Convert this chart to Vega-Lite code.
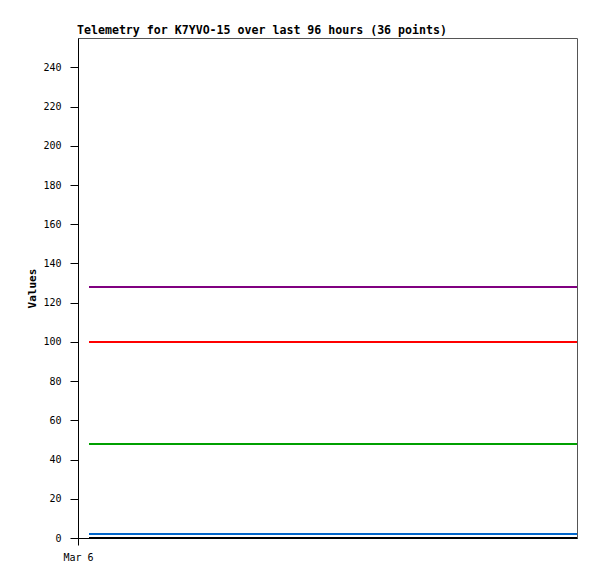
{
  "$schema": "https://vega.github.io/schema/vega-lite/v6.json",
  "autosize": "none",
  "padding": {"left": 78, "top": 38, "right": 20, "bottom": 41},
  "width": 499,
  "height": 500,
  "background": "white",
  "title": {
    "text": "Telemetry for K7YVO-15 over last 96 hours (36 points)",
    "anchor": "start",
    "frame": "group",
    "font": "DejaVu Sans Mono",
    "fontSize": 11.6,
    "fontWeight": "bold",
    "color": "black",
    "offset": 1,
    "dx": -1
  },
  "config": {
    "view": {"stroke": "#555555", "strokeWidth": 1},
    "axis": {
      "labelFont": "DejaVu Sans Mono",
      "labelFontSize": 10,
      "labelColor": "black",
      "titleFont": "DejaVu Sans Mono",
      "titleFontSize": 11,
      "titleFontWeight": "bold",
      "titleColor": "black",
      "domainColor": "black",
      "tickColor": "black",
      "grid": false
    }
  },
  "data": {
    "values": [
      {"t": "2025-03-06T02:07:00Z", "Ch1": 128, "Ch2": 100, "Ch3": 48, "Ch4": 2, "Ch5": 0},
      {"t": "2025-03-06T04:48:00Z", "Ch1": 128, "Ch2": 100, "Ch3": 48, "Ch4": 2, "Ch5": 0},
      {"t": "2025-03-06T07:29:00Z", "Ch1": 128, "Ch2": 100, "Ch3": 48, "Ch4": 2, "Ch5": 0},
      {"t": "2025-03-06T10:10:00Z", "Ch1": 128, "Ch2": 100, "Ch3": 48, "Ch4": 2, "Ch5": 0},
      {"t": "2025-03-06T12:51:00Z", "Ch1": 128, "Ch2": 100, "Ch3": 48, "Ch4": 2, "Ch5": 0},
      {"t": "2025-03-06T15:32:00Z", "Ch1": 128, "Ch2": 100, "Ch3": 48, "Ch4": 2, "Ch5": 0},
      {"t": "2025-03-06T18:13:00Z", "Ch1": 128, "Ch2": 100, "Ch3": 48, "Ch4": 2, "Ch5": 0},
      {"t": "2025-03-06T20:54:00Z", "Ch1": 128, "Ch2": 100, "Ch3": 48, "Ch4": 2, "Ch5": 0},
      {"t": "2025-03-06T23:35:00Z", "Ch1": 128, "Ch2": 100, "Ch3": 48, "Ch4": 2, "Ch5": 0},
      {"t": "2025-03-07T02:16:00Z", "Ch1": 128, "Ch2": 100, "Ch3": 48, "Ch4": 2, "Ch5": 0},
      {"t": "2025-03-07T04:57:00Z", "Ch1": 128, "Ch2": 100, "Ch3": 48, "Ch4": 2, "Ch5": 0},
      {"t": "2025-03-07T07:38:00Z", "Ch1": 128, "Ch2": 100, "Ch3": 48, "Ch4": 2, "Ch5": 0},
      {"t": "2025-03-07T10:19:00Z", "Ch1": 128, "Ch2": 100, "Ch3": 48, "Ch4": 2, "Ch5": 0},
      {"t": "2025-03-07T13:00:00Z", "Ch1": 128, "Ch2": 100, "Ch3": 48, "Ch4": 2, "Ch5": 0},
      {"t": "2025-03-07T15:41:00Z", "Ch1": 128, "Ch2": 100, "Ch3": 48, "Ch4": 2, "Ch5": 0},
      {"t": "2025-03-07T18:22:00Z", "Ch1": 128, "Ch2": 100, "Ch3": 48, "Ch4": 2, "Ch5": 0},
      {"t": "2025-03-07T21:03:00Z", "Ch1": 128, "Ch2": 100, "Ch3": 48, "Ch4": 2, "Ch5": 0},
      {"t": "2025-03-07T23:44:00Z", "Ch1": 128, "Ch2": 100, "Ch3": 48, "Ch4": 2, "Ch5": 0},
      {"t": "2025-03-08T02:25:00Z", "Ch1": 128, "Ch2": 100, "Ch3": 48, "Ch4": 2, "Ch5": 0},
      {"t": "2025-03-08T05:06:00Z", "Ch1": 128, "Ch2": 100, "Ch3": 48, "Ch4": 2, "Ch5": 0},
      {"t": "2025-03-08T07:47:00Z", "Ch1": 128, "Ch2": 100, "Ch3": 48, "Ch4": 2, "Ch5": 0},
      {"t": "2025-03-08T10:28:00Z", "Ch1": 128, "Ch2": 100, "Ch3": 48, "Ch4": 2, "Ch5": 0},
      {"t": "2025-03-08T13:09:00Z", "Ch1": 128, "Ch2": 100, "Ch3": 48, "Ch4": 2, "Ch5": 0},
      {"t": "2025-03-08T15:50:00Z", "Ch1": 128, "Ch2": 100, "Ch3": 48, "Ch4": 2, "Ch5": 0},
      {"t": "2025-03-08T18:31:00Z", "Ch1": 128, "Ch2": 100, "Ch3": 48, "Ch4": 2, "Ch5": 0},
      {"t": "2025-03-08T21:12:00Z", "Ch1": 128, "Ch2": 100, "Ch3": 48, "Ch4": 2, "Ch5": 0},
      {"t": "2025-03-08T23:53:00Z", "Ch1": 128, "Ch2": 100, "Ch3": 48, "Ch4": 2, "Ch5": 0},
      {"t": "2025-03-09T02:34:00Z", "Ch1": 128, "Ch2": 100, "Ch3": 48, "Ch4": 2, "Ch5": 0},
      {"t": "2025-03-09T05:15:00Z", "Ch1": 128, "Ch2": 100, "Ch3": 48, "Ch4": 2, "Ch5": 0},
      {"t": "2025-03-09T07:56:00Z", "Ch1": 128, "Ch2": 100, "Ch3": 48, "Ch4": 2, "Ch5": 0},
      {"t": "2025-03-09T10:37:00Z", "Ch1": 128, "Ch2": 100, "Ch3": 48, "Ch4": 2, "Ch5": 0},
      {"t": "2025-03-09T13:18:00Z", "Ch1": 128, "Ch2": 100, "Ch3": 48, "Ch4": 2, "Ch5": 0},
      {"t": "2025-03-09T15:59:00Z", "Ch1": 128, "Ch2": 100, "Ch3": 48, "Ch4": 2, "Ch5": 0},
      {"t": "2025-03-09T18:40:00Z", "Ch1": 128, "Ch2": 100, "Ch3": 48, "Ch4": 2, "Ch5": 0},
      {"t": "2025-03-09T21:21:00Z", "Ch1": 128, "Ch2": 100, "Ch3": 48, "Ch4": 2, "Ch5": 0},
      {"t": "2025-03-10T00:00:00Z", "Ch1": 128, "Ch2": 100, "Ch3": 48, "Ch4": 2, "Ch5": 0}
    ]
  },
  "transform": [
    {"fold": ["Ch1", "Ch2", "Ch3", "Ch4", "Ch5"], "as": ["channel", "value"]}
  ],
  "mark": {"type": "line", "strokeWidth": 2, "clip": true},
  "encoding": {
    "x": {
      "field": "t",
      "type": "temporal",
      "scale": {"type": "utc", "domain": [{"year": 2025, "month": 3, "date": 6, "utc": true}, {"year": 2025, "month": 3, "date": 10, "utc": true}]},
      "axis": {
        "title": null,
        "values": [{"year": 2025, "month": 3, "date": 6, "utc": true}],
        "format": "%b %-d",
        "labelFlush": false,
        "tickSize": 7,
        "labelPadding": 7
      }
    },
    "y": {
      "field": "value",
      "type": "quantitative",
      "scale": {"domain": [0, 255], "nice": false, "zero": true},
      "axis": {
        "title": "Values",
        "values": [0, 20, 40, 60, 80, 100, 120, 140, 160, 180, 200, 220, 240],
        "tickSize": 8,
        "labelPadding": 9,
        "titleX": -41,
        "titleY": 250,
        "titleAlign": "center",
        "titleAngle": -90,
        "titleBaseline": "bottom"
      }
    },
    "color": {
      "field": "channel",
      "type": "nominal",
      "scale": {"domain": ["Ch1", "Ch2", "Ch3", "Ch4", "Ch5"], "range": ["#800080", "#FF0000", "#00A000", "#0066CC", "#000000"]},
      "legend": null
    }
  }
}
